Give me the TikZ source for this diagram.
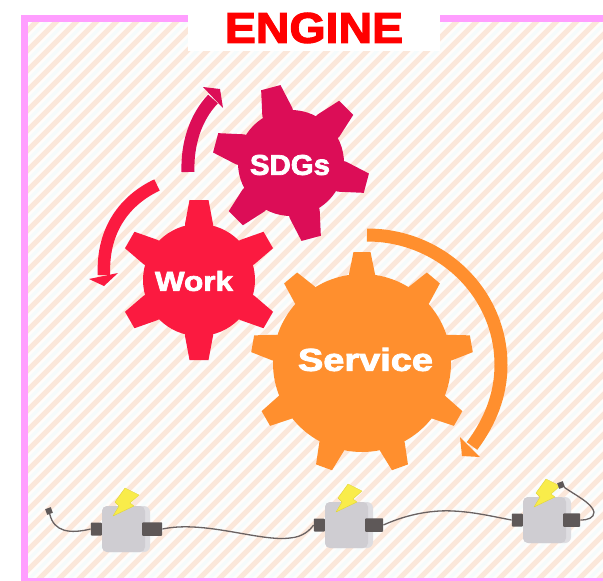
\documentclass[tikz,border=0pt]{standalone}
\usepackage{graphicx}
\usepackage{fontspec}
\setmainfont{Liberation Sans}
\newfontfamily\heavy[FakeBold=2.5]{Liberation Sans Bold}
\definecolor{framepink}{HTML}{FF9EFF}
\definecolor{stripepeach}{HTML}{FBE7DA}
\definecolor{stripeblue}{HTML}{F5FBFC}
\definecolor{paper}{HTML}{FFFDFB}
\definecolor{sdgcol}{HTML}{DC0D57}
\definecolor{workcol}{HTML}{FB1A40}
\definecolor{servcol}{HTML}{FF8F2E}
\definecolor{wirecol}{HTML}{6A6262}
\definecolor{plugcol}{HTML}{5E5858}
\definecolor{bodycol}{HTML}{CFCDD2}
\definecolor{capcol}{HTML}{DEDDE1}
\definecolor{boltcol}{HTML}{F9EC4A}
\tikzset{
  gearlabel/.style={inner sep=0pt,text=white},
  swoosh/.style={line width=#1},
  plugbox/.style={fill=plugcol,inner sep=0pt,rounded corners=0.8pt},
  wirepath/.style={draw=wirecol,line width=1.3pt},
  endpoint/.style={fill=plugcol,inner sep=0pt,minimum size=6pt,rotate=20},
}
\newcommand{\gearshape}[9]{%
  \fill[#9] (#1,#2) circle[radius=#3];
  \foreach \k in {1,...,#7}{%
    \pgfmathsetmacro{\ang}{#8+360*\k/#7}
    \begin{scope}[shift={(#1,#2)},rotate=\ang]
      \fill[#9,line join=round] (#3-3,-#6/2) -- (#3,-#6/2) -- (#4,-#5/2) -- (#4,#5/2) -- (#3,#6/2) -- (#3-3,#6/2) -- cycle;
    \end{scope}
  }%
}
\newcommand{\motor}[6]{% x y name plugL-width plugR-width body-h
  \fill[capcol,rounded corners=6pt] (#1,#2) rectangle ++(48,#6);
  \fill[bodycol,rounded corners=5pt] (#1,#2) rectangle ++(43,#6);
  \fill[boltcol,draw=boltcol!80!olive,line width=0.4pt,line join=round]
    (#1+23,#2-18) -- (#1+37,#2-11) -- (#1+28,#2-3) -- (#1+32,#2) -- (#1+11,#2+10) -- (#1+17,#2) -- (#1+13,#2-4) -- cycle;
  \node[plugbox,minimum width=#4pt,minimum height=13pt,anchor=east] (#3l) at (#1,#2+23) {};
  \node[plugbox,minimum width=#5pt,minimum height=13.5pt,anchor=west] (#3r) at (#1+40,#2+23) {};
}
\begin{document}
\begin{tikzpicture}[x=1pt,y=-1pt]
\useasboundingbox (0,0) rectangle (603,581);
\fill[white] (0,0) rectangle (603,581);
% striped field
\begin{scope}
  \clip (28,22) rectangle (603,578);
  \fill[paper] (28,22) rectangle (603,578);
  \foreach \c in {38,58,...,1200}{
    \draw[stripepeach,line width=5pt] (\c,0) -- (0,\c);
    \draw[stripeblue,line width=3pt] (\c+10,0) -- (0,\c+10);
  }
\end{scope}
% frame
\fill[framepink] (21,15) rectangle (603,22);
\fill[framepink] (21,15) rectangle (28,581);
\fill[framepink] (21,578) rectangle (603,581);
% title
\fill[white] (188,0) rectangle (440,51);
\node[inner sep=0pt,text=red] (title) at (314,28) {\resizebox{178pt}{30pt}{\heavy ENGINE}};
% gears
\gearshape{291}{163}{53}{78}{20}{31}{6}{45}{sdgcol}
\gearshape{199}{280}{56}{80}{19}{28}{6}{30}{workcol}
\gearshape{362}{363}{89}{111}{17}{26}{9}{10}{servcol}
\node[gearlabel] (sdgs) at (290,165) {\resizebox{80pt}{20pt}{\heavy SDGs}};
\node[gearlabel] (work) at (194,281) {\resizebox{78pt}{20pt}{\heavy Work}};
\node[gearlabel] (service) at (365.5,359.5) {\resizebox{135pt}{23pt}{\heavy Service}};
% rotation arrows
\draw[sdgcol,swoosh=13pt] (188,172) .. controls (187,145) and (195,118) .. (213,99);
\fill[sdgcol] (203,87) -- (220,89) -- (223,108) -- cycle;
\draw[workcol,swoosh=12.5pt] (157,185) .. controls (125,200) and (102,230) .. (104,275);
\fill[workcol] (89,279) -- (118,273) -- (104,286) -- cycle;
\draw[servcol,swoosh=13pt] (367,235) .. controls (441,235) and (501,293) .. (501,365) .. controls (501,395) and (490,422) .. (472,446);
\fill[servcol] (460,437) -- (480,457) -- (462,456) -- cycle;
% motors
\motor{102}{506}{ma}{11}{20}{46}
\motor{325}{502}{mb}{11}{18}{46}
\motor{523}{497}{mc}{11}{17}{46}
\node[endpoint] (pa) at (49,511) {};
\node[endpoint] (pc) at (561,485) {};
\draw[wirepath] (pa) .. controls (54,532) and (70,534) .. (mal.west);
\draw[wirepath] (mar.east) .. controls (205,520) and (260,542) .. (290,538) .. controls (303,537) and (310,530) .. (mbl.west);
\draw[wirepath] (mbr.east) .. controls (410,513) and (435,510) .. (453,511) .. controls (475,512) and (495,517) .. (mcl.west);
\draw[wirepath] (pc) .. controls (575,495) and (592,503) .. (594,512) .. controls (594,518) and (588,520) .. (mcr.east);
\end{tikzpicture}
\end{document}
